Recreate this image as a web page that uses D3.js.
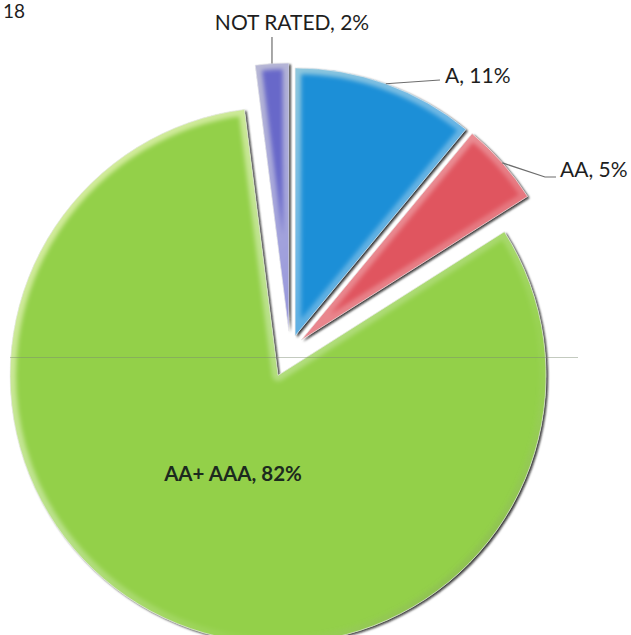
<!DOCTYPE html>
<html>
<head>
<meta charset="utf-8">
<script src="https://cdn.jsdelivr.net/npm/d3@7"></script>
<style>
  html, body { margin: 0; padding: 0; background: #fff; }
  svg { display: block; }
</style>
</head>
<body>
<script>
// ---- data ----
const categories = ["A", "AA", "AA+ AAA", "NOT RATED"];
const shares = [11, 5, 82, 2];
const labelTexts = ["A, 11%", "AA, 5%", "AA+ AAA, 82%", "NOT RATED, 2%"];
const cornerText = "18";

// ---- styles / layout ----
const colors = ["#1f8fd7", "#e0555f", "#93d04a", "#6868c9"];
const explode = [15, 15, 28, 19];
const W = 631, H = 635;
const cx = 290, cy = 350, R = 268;

const svg = d3.select("body").append("svg").attr("width", W).attr("height", H);
const defs = svg.append("defs");

const shadow = defs.append("filter").attr("id", "shadow")
  .attr("x", "-10%").attr("y", "-10%").attr("width", "120%").attr("height", "120%");
shadow.append("feDropShadow").attr("dx", 2).attr("dy", 1.5).attr("stdDeviation", 0.9)
  .attr("flood-color", "#0a0a0a").attr("flood-opacity", 0.85);

const blur = defs.append("filter").attr("id", "blur")
  .attr("x", "-10%").attr("y", "-10%").attr("width", "120%").attr("height", "120%");
blur.append("feGaussianBlur").attr("stdDeviation", 2.2);

const grad = defs.append("linearGradient").attr("id", "rim")
  .attr("gradientUnits", "userSpaceOnUse")
  .attr("x1", -R).attr("y1", -R).attr("x2", R).attr("y2", R);
grad.append("stop").attr("offset", "0%").attr("stop-color", "#ffffc0").attr("stop-opacity", 0.7);
grad.append("stop").attr("offset", "45%").attr("stop-color", "#ffffff").attr("stop-opacity", 0.35);
grad.append("stop").attr("offset", "70%").attr("stop-color", "#ffffff").attr("stop-opacity", 0.05);
grad.append("stop").attr("offset", "100%").attr("stop-color", "#000000").attr("stop-opacity", 0.25);

const pie = d3.pie().sort(null).value(d => d).startAngle(0).endAngle(2 * Math.PI);
const arcs = pie(shares);
const arc = d3.arc().innerRadius(0).outerRadius(R);

// shift of each slice along its bisector
function offset(a, i) {
  const mid = (a.startAngle + a.endAngle) / 2;
  const [x, y] = d3.pointRadial(mid, explode[i]);
  return [cx + x, cy + y];
}

const slices = svg.append("g");
arcs.forEach((a, i) => {
  const [ox, oy] = offset(a, i);
  const g = slices.append("g").attr("transform", `translate(${ox},${oy})`);
  const clipId = "clip" + i;
  defs.append("clipPath").attr("id", clipId).append("path").attr("d", arc(a));
  g.append("path").attr("d", arc(a)).attr("fill", colors[i]).attr("filter", "url(#shadow)");
  const inner = g.append("g").attr("clip-path", `url(#${clipId})`);
  inner.append("path").attr("d", arc(a)).attr("fill", "none")
    .attr("stroke", "url(#rim)").attr("stroke-width", 12).attr("stroke-linejoin", "round")
    .attr("filter", "url(#blur)");
  g.append("path").attr("d", arc(a)).attr("fill", "none")
    .attr("stroke", "rgba(235,235,235,0.7)").attr("stroke-width", 1);
});

// faint horizontal scan line
svg.append("line").attr("x1", 10).attr("x2", 578).attr("y1", 357.5).attr("y2", 357.5)
  .attr("stroke", "#7a8a70").attr("stroke-opacity", 0.45).attr("stroke-width", 1);

// ---- labels ----
const font = "Lato, 'Open Sans', sans-serif";
function arcMid(i) {
  const a = arcs[i];
  const [ox, oy] = offset(a, i);
  const [x, y] = d3.pointRadial((a.startAngle + a.endAngle) / 2, R);
  return [ox + x, oy + y];
}
const line = d3.line();
const leaders = svg.append("g").attr("fill", "none").attr("stroke", "#6d6d6d").attr("stroke-width", 1.2);

// NOT RATED
{
  const p = arcMid(3);
  leaders.append("path").attr("d", line([p, [p[0], 37]]));
  svg.append("text").attr("x", 292).attr("y", 30).attr("text-anchor", "middle")
    .attr("font-family", font).attr("font-size", 21).attr("fill", "#1e1e1e")
    .text(labelTexts[3]);
}
// A
{
  const p = arcMid(0);
  leaders.append("path").attr("d", line([p, [440, 80]]));
  svg.append("text").attr("x", 445).attr("y", 83)
    .attr("font-family", font).attr("font-size", 21).attr("fill", "#1e1e1e")
    .text(labelTexts[0]);
}
// AA
{
  const p = arcMid(1);
  leaders.append("path").attr("d", line([p, [545, 177], [556, 177]]));
  svg.append("text").attr("x", 560).attr("y", 177)
    .attr("font-family", font).attr("font-size", 21).attr("fill", "#1e1e1e")
    .text(labelTexts[1]);
}
// AA+ AAA (inside)
svg.append("text").attr("x", 233).attr("y", 481).attr("text-anchor", "middle")
  .attr("font-family", font).attr("font-weight", "bold").attr("font-size", 20.5).attr("fill", "#1c2a1e")
  .text(labelTexts[2]);

// corner text (top-left)
svg.append("text").attr("x", 3).attr("y", 18)
  .attr("font-family", font).attr("font-size", 19).attr("fill", "#1e1e1e")
  .text(cornerText);
</script>
</body>
</html>
